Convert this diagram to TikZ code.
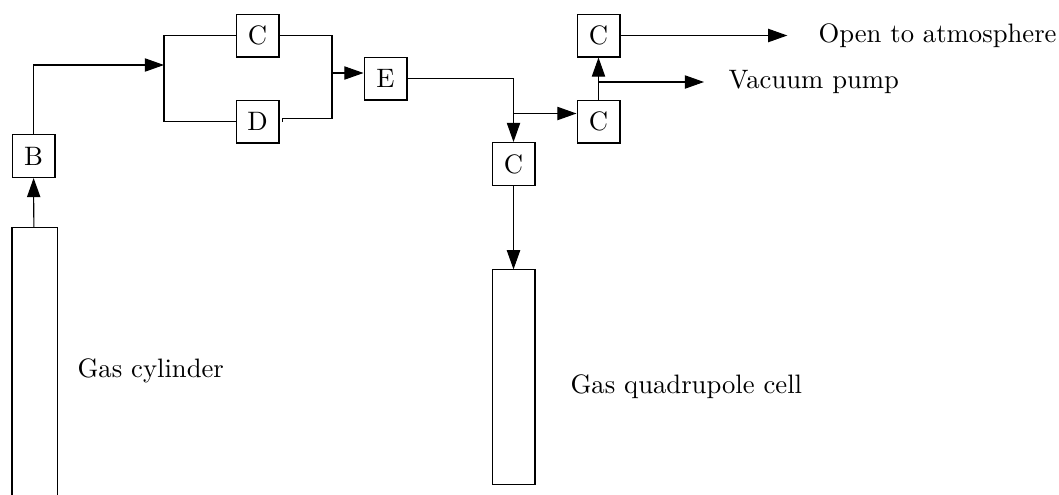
\documentclass[tikz,border=0pt]{standalone}
\usepackage{tikz}
\usetikzlibrary{arrows.meta}
\tikzset{
  valve/.style={draw,minimum size=16.1pt,inner sep=0pt},
  vessel/.style={draw,inner sep=0pt},
  flow/.style={-{Triangle[length=7.2pt,width=5pt]}},
  caption/.style={anchor=west,inner sep=0pt},
}
\begin{document}
\begin{tikzpicture}[x=0.375pt,y=-0.375pt,line width=0.4pt]
  \useasboundingbox (0,0) rectangle (1059,494);
  % vessels
  \node [vessel,minimum width=16.9pt,minimum height=110pt] (cyl) at (34.5,374.5) {};
  \node [vessel,minimum width=16.1pt,minimum height=80.3pt] (quad) at (513.5,377) {};
  \node [caption] (cyltext) at (77,371) {Gas cylinder};
  \node [caption] (quadtext) at (570,387) {Gas quadrupole cell};
  % valves
  \node [valve] (B) at (33.5,156) {B};
  \node [valve] (Cup) at (257.5,35.5) {C};
  \node [valve] (D) at (257.5,121.5) {D};
  \node [valve] (E) at (385.5,78.5) {E};
  \node [valve] (Cfeed) at (513.5,164) {C};
  \node [valve] (Cpump) at (598.5,121.5) {C};
  \node [valve] (Cvent) at (598.5,35.5) {C};
  \node [caption] (pump) at (728,82) {Vacuum pump};
  \node [caption] (atm) at (818,35.5) {Open to atmosphere};
  \coordinate (split) at (164,65);
  \coordinate (join) at (332,73);
  \coordinate (tee) at (513.5,113.5);
  % piping
  \draw [flow] (cyl) -- (B);
  \draw [flow] (B) |- (split);
  \draw (Cup) -| (split) |- (D);
  \draw (Cup) -| (join);
  \draw ([xshift=1.1pt]D.east) -- ++(0,-3) -| (join);
  \draw [flow] (join) -- (join -| E.west);
  \draw [flow] (E) -| (Cfeed);
  \draw [flow] (tee) -- (tee -| Cpump.west);
  \draw [flow] (Cfeed) -- (quad);
  \draw [flow] (Cpump) -- (Cvent);
  \draw [flow,shorten >=9pt] (Cpump.north |- pump) -- (pump);
  \draw [flow,shorten >=11.5pt] (Cvent) -- (atm);
\end{tikzpicture}
\end{document}
